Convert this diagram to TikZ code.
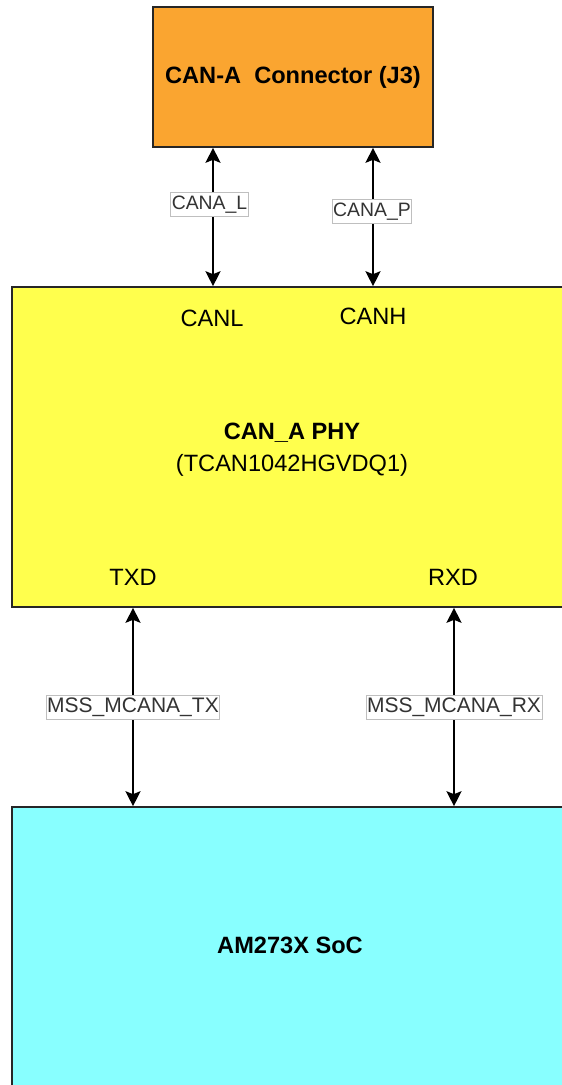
\documentclass[tikz,border=0pt]{standalone}
\usepackage{fontspec}
\setmainfont{Liberation Sans}
\usetikzlibrary{arrows.meta,calc}
\definecolor{connorange}{RGB}{250,165,48}
\definecolor{phyyellow}{RGB}{255,255,77}
\definecolor{soccyan}{RGB}{136,255,255}
\definecolor{lblgray}{RGB}{51,51,51}
\tikzset{
  blockbox/.style={draw=black!85, line width=1.6pt, rectangle, inner sep=0pt},
  maintext/.style={font=\fontsize{23.6}{28}\selectfont, text=black, inner sep=0pt},
  boldtext/.style={font=\fontsize{23.6}{28}\selectfont\bfseries, text=black, inner sep=0pt},
  sigarrow/.style={line width=1.7pt, {Stealth[width=15pt,length=15pt,inset=3pt]}-{Stealth[width=15pt,length=15pt,inset=3pt]}},
  siglabel/.style={font=\fontsize{21}{24}\selectfont, text=lblgray, fill=white, draw=black!25, line width=0.7pt, inner xsep=1pt, inner ysep=2.5pt},
  smalllabel/.style={siglabel, font=\fontsize{19.4}{22}\selectfont, inner ysep=3pt}
}
\begin{document}
\begin{tikzpicture}[x=1pt,y=-1pt]
\useasboundingbox (0,0) rectangle (562,1085);
\clip (0,0) rectangle (562,1085);
% blocks
\node[blockbox, fill=connorange, minimum width=280pt, minimum height=140pt] (conn) at (293,77) {};
\node[boldtext] (connlbl) at (293,77) {CAN-A\ \ Connector (J3)};
\node[blockbox, fill=phyyellow, minimum width=570pt, minimum height=320pt] (phy) at (297,447) {};
\node[blockbox, fill=soccyan, minimum width=570pt, minimum height=340pt] (soc) at (297,977) {};
% inner texts
\node[maintext] (canl) at (212,318) {CANL};
\node[maintext] (canh) at (373,316) {CANH};
\node[boldtext] (phylbl) at (292,433) {CAN\_A PHY};
\node[maintext] (phypart) at (292,465) {(TCAN1042HGVDQ1)};
\node[maintext] (txd) at (133,577) {TXD};
\node[maintext] (rxd) at (453,577) {RXD};
\node[boldtext] (soclbl) at (290,945) {AM273X SoC};
% columns
\coordinate (cL) at (213,0);
\coordinate (cH) at (373,0);
\coordinate (cT) at (133,0);
\coordinate (cR) at (454,0);
% connectors
\draw[sigarrow] (conn.south -| cL) -- node[smalllabel, pos=0.41, xshift=-3.5pt] (lblL) {CANA\_L} (phy.north -| cL);
\draw[sigarrow] (conn.south -| cH) -- node[smalllabel, pos=0.459, xshift=-1pt] (lblP) {CANA\_P} (phy.north -| cH);
\draw[sigarrow] (phy.south -| cT) -- node[siglabel, pos=0.5025] (lblTX) {MSS\_MCANA\_TX} (soc.north -| cT);
\draw[sigarrow] (phy.south -| cR) -- node[siglabel, pos=0.5025] (lblRX) {MSS\_MCANA\_RX} (soc.north -| cR);
\end{tikzpicture}
\end{document}
